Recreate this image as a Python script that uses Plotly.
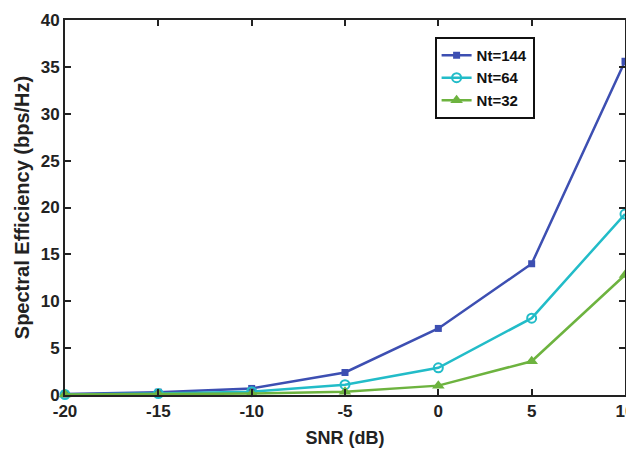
import plotly.graph_objects as go

snr = [-20, -15, -10, -5, 0, 5, 10]
se_144 = [0.1, 0.3, 0.7, 2.4, 7.1, 14.0, 35.6]
se_64 = [0.05, 0.15, 0.35, 1.1, 2.9, 8.2, 19.3]
se_32 = [0.05, 0.1, 0.15, 0.35, 1.0, 3.6, 12.8]

x_ticks = [-20, -15, -10, -5, 0, 5, 10]
y_ticks = [0, 5, 10, 15, 20, 25, 30, 35, 40]

fig = go.Figure()
fig.add_trace(go.Scatter(x=snr, y=se_144, name="<b>Nt=144</b>", mode="lines+markers",
                         line=dict(color="#3D4FB2", width=2.5),
                         marker=dict(symbol="square", size=7, color="#3D4FB2")))
fig.add_trace(go.Scatter(x=snr, y=se_64, name="<b>Nt=64</b>", mode="lines+markers",
                         line=dict(color="#22BCC8", width=2.5),
                         marker=dict(symbol="circle-open", size=9, color="#22BCC8",
                                     line=dict(width=2))))
fig.add_trace(go.Scatter(x=snr, y=se_32, name="<b>Nt=32</b>", mode="lines+markers",
                         line=dict(color="#6DB33F", width=2.5),
                         marker=dict(symbol="triangle-up", size=11, color="#6DB33F")))

font_family = "Liberation Sans, Arial, sans-serif"
fig.update_layout(
    width=626, height=443,
    margin=dict(l=57, r=9, t=12, b=56),
    paper_bgcolor="white", plot_bgcolor="white",
    font=dict(family=font_family, size=17, color="#222222"),
    showlegend=True,
    legend=dict(x=0.66, y=0.955, xanchor="left", yanchor="top",
                bgcolor="white", bordercolor="#111111", borderwidth=2,
                font=dict(family=font_family, size=15, color="#111111"),
                tracegroupgap=0, itemwidth=30),
    xaxis=dict(range=[-20, 10], tickvals=x_ticks,
               ticktext=[f"<b>{v}</b>" for v in x_ticks],
               ticklabeloverflow="allow",
               showgrid=False, zeroline=False, automargin=False,
               showline=True, linecolor="#222222", linewidth=2, mirror="ticks",
               ticks="inside", ticklen=6, tickwidth=2, tickcolor="#222222",
               title=dict(text="<b>SNR (dB)</b>", font=dict(size=18), standoff=11)),
    yaxis=dict(range=[0, 40], tickvals=y_ticks,
               ticktext=[f"<b>{v}</b>" for v in y_ticks],
               showgrid=False, zeroline=False, automargin=False,
               showline=True, linecolor="#222222", linewidth=2, mirror="ticks",
               ticks="inside", ticklen=6, tickwidth=2, tickcolor="#222222",
               title=dict(text="<b>Spectral Efficiency (bps/Hz)</b>", font=dict(size=20), standoff=6)),
)
fig.update_traces(cliponaxis=False)
fig.write_html("out.html")
